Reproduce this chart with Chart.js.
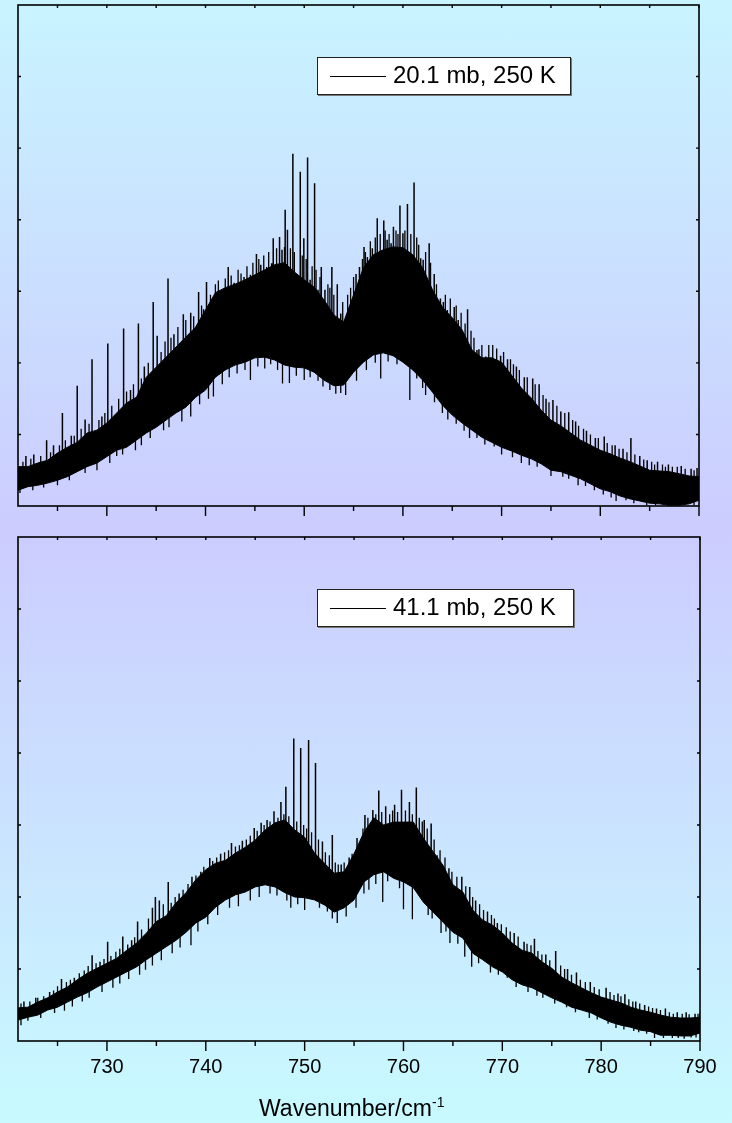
<!DOCTYPE html>
<html>
<head>
<meta charset="utf-8">
<script src="https://cdn.jsdelivr.net/npm/chart.js@4.4.1/dist/chart.umd.min.js"></script>
<style>
  html, body { margin: 0; padding: 0; }
  body {
    width: 732px; height: 1123px; position: relative; overflow: hidden;
    background: linear-gradient(to bottom, #c8f4ff 0%, #ccccff 47%, #c8faff 100%);
    font-family: "Liberation Sans", Arial, sans-serif;
  }
  canvas { position: absolute; left: 0; }
  #c1 { top: 0; }
  #c2 { top: 520px; }
  .legend {
    position: absolute; height: 38px; box-sizing: border-box; z-index: 2;
    background: #fff; border: 1px solid #222; box-shadow: 1px 1px 0 #777;
  }
  .legend i { position: absolute; left: 12px; top: 18px; width: 56px; border-top: 1px solid #000; }
  .legend span { position: absolute; left: 75px; top: 5px; font-size: 24px; line-height: 24px; white-space: nowrap; color: #000; }
  #xtitle { position: absolute; left: 259px; top: 1097px; font-size: 23px; line-height: 23px; color: #000; white-space: nowrap; }
  #xtitle sup { font-size: 14px; vertical-align: 9px; line-height: 0; }
</style>
</head>
<body>
<canvas id="c1" width="732" height="520"></canvas>
<canvas id="c2" width="732" height="603"></canvas>
<div class="legend" id="leg1" style="left:317px;top:57px;width:254px"><i></i><span></span></div>
<div class="legend" id="leg2" style="left:317px;top:589px;width:257px"><i></i><span></span></div>
<div id="xtitle">Wavenumber/cm<sup>-1</sup></div>

<script>
// x grid (cm-1)
const wavenumbers = [721,722,723,724,725,726,727,728,729,730,
  731,732,733,734,735,736,737,738,739,740,
  741,742,743,744,745,746,747,748,749,750,
  751,752,753,754,755,756,757,758,759,760,
  761,762,763,764,765,766,767,768,769,770,
  771,772,773,774,775,776,777,778,779,780,
  781,782,783,784,785,786,787,788,789,790];
const xLabelTicks = [730, 740, 750, 760, 770, 780, 790];
const xMinorTicks = [725, 735, 745, 755, 765, 775, 785];
const yTicks = [1, 2, 3, 4, 5, 6];
const seriesLabels = ['20.1 mb, 250 K', '41.1 mb, 250 K'];

// 20.1 mb - solid band top / bottom
const upper20 = [0.55,0.55,0.60,0.64,0.74,0.82,0.89,1.02,1.06,1.16,
  1.30,1.44,1.52,1.80,1.94,2.08,2.22,2.36,2.50,2.74,
  2.98,3.05,3.10,3.16,3.23,3.30,3.37,3.40,3.27,3.16,
  3.06,2.88,2.67,2.57,2.95,3.33,3.51,3.58,3.62,3.61,
  3.51,3.33,3.02,2.78,2.63,2.46,2.18,2.07,2.07,2.01,
  1.83,1.65,1.51,1.34,1.20,1.12,1.02,0.92,0.85,0.78,
  0.73,0.67,0.62,0.56,0.50,0.49,0.48,0.45,0.42,0.41];
const lower20 = [0.22,0.27,0.29,0.32,0.36,0.41,0.48,0.55,0.60,0.69,
  0.78,0.82,0.92,1.02,1.10,1.20,1.30,1.38,1.52,1.62,
  1.80,1.90,1.97,2.01,2.07,2.08,2.04,1.97,1.94,1.93,
  1.87,1.76,1.68,1.69,1.87,2.01,2.11,2.14,2.10,2.01,
  1.90,1.76,1.59,1.41,1.27,1.16,1.06,0.96,0.89,0.82,
  0.77,0.71,0.66,0.59,0.50,0.48,0.43,0.38,0.31,0.24,
  0.20,0.14,0.10,0.07,0.04,0.03,0.01,0.01,0.03,0.08];
// [wavenumber, line tip] - the tall isolated lines
const spikesUp20 = [[721.8,0.70],[722.6,0.72],[723.9,0.92],[724.6,0.85],[725.5,1.30],[726.4,0.98],
  [727.0,1.68],[727.8,1.21],[728.5,2.05],[729.5,1.25],[730.1,2.27],[731.7,2.48],[732.4,1.62],
  [733.2,2.55],[733.8,1.95],[734.7,2.85],[735.1,2.38],[736.2,3.18],[736.8,2.40],[737.75,2.68],
  [738.5,2.70],[739.3,2.99],[739.8,2.75],[740.1,3.13],[741.6,2.99],[742.3,3.34],[742.9,3.12],
  [743.9,3.20],[744.55,3.23],[745.16,3.52],[745.6,3.37],[746.2,3.34],[746.7,3.39],[746.86,3.74],
  [747.5,3.76],[747.75,3.58],[748.07,4.14],[748.3,3.86],[748.85,4.92],[749.3,3.20],[749.6,4.67],
  [749.96,3.74],[750.34,4.87],[750.6,3.16],[751.05,4.51],[751.4,3.02],[751.73,3.34],[752.1,3.02],
  [752.8,3.34],[753.35,3.10],[753.7,2.69],[754.1,2.60],[755.25,3.24],[755.6,3.34],[756.06,3.62],
  [756.4,3.48],[756.9,3.60],[757.4,4.02],[758.06,3.99],[758.4,3.72],[758.8,3.67],[759.04,3.90],
  [759.7,4.20],[760.0,3.81],[760.46,4.22],[761.13,4.52],[761.8,3.46],[762.05,3.44],[762.66,3.67],
  [763.17,3.24],[763.8,2.90],[764.1,2.85],[764.5,2.74],[765.2,2.78],[765.6,2.60],[766.55,2.75],
  [767.5,2.18],[767.7,2.19],[768.4,2.09],[769.9,2.10],[770.6,2.05],[771.5,1.95],[772.3,1.80],
  [773.15,1.78],[773.8,1.70],[774.5,1.50],[775.2,1.48],[776.0,1.32],[776.8,1.31],[777.5,1.18],
  [778.6,1.05],[779.5,0.95],[780.4,0.97],[781.5,0.85],[782.3,0.80],[783.1,0.95],[784.0,0.70],
  [784.75,0.64],[785.8,0.62],[786.9,0.58],[788.2,0.56],[789.2,0.52],[789.8,0.53]];
// short lines that fray the top edge of the band
const grassUp20 = [[721.5,0.62],[722.3,0.66],[723.3,0.70],[724.3,0.75],[725.2,0.85],[725.8,0.92],
  [726.7,0.98],[727.4,1.08],[728.2,1.15],[729.2,1.20],[729.8,1.30],[730.5,1.40],[731.2,1.50],
  [732.0,1.60],[732.7,1.70],[733.5,1.78],[734.2,2.00],[735.5,2.15],[735.9,2.30],[736.5,2.35],
  [737.2,2.50],[738.0,2.60],[738.8,2.65],[739.6,2.80],[740.5,2.95],[741.0,3.10],[741.3,3.15],
  [742.0,3.18],[742.6,3.22],[743.3,3.30],[743.6,3.25],[744.2,3.35],[744.8,3.40],[745.4,3.45],
  [745.9,3.50],[746.4,3.55],[747.2,3.60],[748.0,3.62],[748.6,3.60],[749.0,3.55],[749.8,3.50],
  [750.2,3.45],[750.8,3.35],[751.2,3.30],[751.6,3.20],[752.4,3.10],[752.6,3.05],[753.0,2.95],
  [753.9,2.85],[754.4,2.95],[754.7,3.05],[755.0,3.20],[755.9,3.45],[756.2,3.55],[756.7,3.70],
  [757.2,3.75],[757.7,3.80],[758.2,3.85],[758.6,3.80],[759.3,3.85],[759.5,3.80],[760.2,3.85],
  [760.8,3.80],[761.4,3.75],[761.6,3.65],[762.3,3.55],[762.8,3.40],[763.4,3.10],[764.3,2.95],
  [764.8,2.90],[765.4,2.80],[765.9,2.70],[766.3,2.55],[766.9,2.45],[767.2,2.35],[768.0,2.25],
  [768.7,2.25],[769.1,2.25],[769.5,2.20],[770.2,2.15],[770.9,2.05],[771.2,1.98],[771.8,1.90],
  [772.6,1.80],[773.4,1.70],[774.2,1.55],[774.8,1.45],[775.6,1.40],[776.4,1.30],[777.2,1.20],
  [777.8,1.12],[778.3,1.08],[779.0,1.00],[779.8,0.95],[780.7,0.88],[781.2,0.85],[781.9,0.80],
  [782.7,0.75],[783.5,0.72],[784.4,0.65],[785.2,0.62],[785.5,0.58],[786.3,0.58],[786.6,0.55],
  [787.3,0.55],[787.8,0.55],[788.6,0.52],[789.5,0.50]];
// [wavenumber, dip bottom]
const spikesDown20 = [[721.2,0.18],[722.5,0.22],[723.6,0.26],[725.0,0.29],[726.2,0.36],[727.8,0.46],
  [729.0,0.50],[730.3,0.60],[731.0,0.70],[731.6,0.72],[732.9,0.78],[733.5,0.85],[734.4,0.95],
  [735.75,1.06],[736.3,1.10],[737.6,1.18],[738.5,1.25],[739.4,1.42],[740.3,1.50],[740.8,1.53],
  [741.7,1.70],[742.4,1.80],[743.2,1.85],[744.0,1.90],[744.55,1.76],[745.3,1.95],[746.0,1.92],
  [746.6,1.98],[747.3,1.90],[747.8,1.71],[748.5,1.72],[749.2,1.82],[750.0,1.76],[750.6,1.80],
  [751.4,1.75],[751.9,1.67],[752.6,1.62],[753.2,1.57],[753.7,1.58],[754.2,1.55],[755.3,1.75],
  [756.3,1.90],[757.2,2.00],[757.75,1.78],[758.5,2.02],[759.4,1.98],[760.7,1.48],[761.4,1.78],
  [762.0,1.65],[762.3,1.55],[763.2,1.45],[764.0,1.30],[764.55,1.21],[765.4,1.15],[766.2,1.05],
  [766.75,0.95],[767.5,0.95],[768.3,0.86],[769.25,0.83],[770.0,0.72],[771.1,0.68],[772.0,0.60],
  [772.8,0.57],[773.6,0.55],[775.0,0.42],[776.2,0.41],[776.8,0.38],[777.75,0.29],[778.5,0.28],
  [779.4,0.22],[780.3,0.16],[781.1,0.12],[781.6,0.07],[782.6,0.08],[783.4,0.04],[784.7,0.01],
  [785.6,0.01],[786.8,0.00],[788.0,0.00],[789.5,0.01]];

// 41.1 mb - solid band top / bottom
const upper41 = [0.46,0.47,0.54,0.60,0.68,0.75,0.85,0.94,1.01,1.08,
  1.15,1.26,1.36,1.50,1.66,1.74,1.92,2.06,2.24,2.38,
  2.47,2.51,2.61,2.69,2.79,2.93,3.03,3.07,2.93,2.83,
  2.61,2.47,2.33,2.35,2.60,2.90,3.10,3.00,3.04,3.04,
  3.04,2.82,2.63,2.44,2.17,2.07,1.82,1.68,1.61,1.50,
  1.36,1.26,1.22,1.10,1.01,0.89,0.81,0.74,0.67,0.61,
  0.57,0.53,0.47,0.43,0.40,0.36,0.33,0.32,0.32,0.33];
const lower41 = [0.29,0.33,0.36,0.43,0.47,0.54,0.61,0.67,0.75,0.82,
  0.89,0.96,1.03,1.13,1.22,1.31,1.40,1.51,1.64,1.72,
  1.86,1.96,2.03,2.07,2.14,2.17,2.14,2.06,2.00,1.99,
  1.96,1.89,1.79,1.85,1.96,2.21,2.31,2.35,2.26,2.21,
  2.13,1.93,1.79,1.65,1.51,1.43,1.22,1.13,1.03,0.96,
  0.85,0.78,0.74,0.67,0.60,0.54,0.47,0.43,0.39,0.32,
  0.26,0.22,0.19,0.15,0.13,0.08,0.08,0.07,0.07,0.11];
const spikesUp41 = [[721.6,0.55],[722.8,0.60],[724.2,0.68],[725.4,0.86],[726.7,0.88],[728.5,1.19],
  [729.3,1.10],[730.07,1.38],[731.6,1.45],[732.5,1.40],[733.1,1.66],[734.6,1.85],[734.9,2.00],
  [735.3,1.95],[736.2,2.21],[737.3,2.05],[738.6,2.28],[739.5,2.35],[740.4,2.54],[741.5,2.60],
  [742.6,2.75],[743.7,2.78],[744.9,2.96],[745.6,3.03],[746.2,3.07],[746.9,3.19],[747.6,3.32],
  [748.1,3.53],[748.9,4.20],[749.6,4.07],[750.4,4.18],[751.1,3.86],[751.8,2.77],[752.8,2.86],
  [753.7,2.45],[754.5,2.55],[755.3,2.82],[756.1,3.14],[756.9,3.21],[757.5,3.48],[758.2,3.26],
  [759.1,3.28],[759.8,3.49],[760.6,3.32],[761.3,3.52],[762.1,3.07],[762.8,3.02],[763.4,2.58],
  [764.6,2.40],[765.9,2.28],[766.7,2.14],[767.3,1.95],[768.5,1.80],[769.5,1.64],[771.2,1.50],
  [772.2,1.38],[773.25,1.42],[774.4,1.20],[775.4,1.25],[776.6,1.00],[777.5,0.95],[778.9,0.82],
  [780.5,0.74],[781.7,0.66],[782.4,0.65],[783.5,0.55],[784.4,0.50],[785.6,0.45],[786.5,0.45],
  [787.7,0.40],[788.6,0.40],[789.5,0.38],[790.0,0.39]];
const grassUp41 = [[721.3,0.52],[722.2,0.55],[723.0,0.60],[723.6,0.62],[724.6,0.70],[725.0,0.76],
  [725.9,0.82],[726.3,0.85],[727.2,0.94],[727.7,0.98],[728.1,1.04],[728.9,1.08],[729.7,1.14],
  [730.4,1.18],[730.9,1.24],[731.3,1.28],[732.1,1.34],[732.8,1.44],[733.5,1.55],[734.2,1.70],
  [735.7,1.90],[736.5,1.92],[736.9,2.00],[737.7,2.10],[738.2,2.18],[739.0,2.30],[739.8,2.42],
  [740.7,2.50],[741.1,2.55],[741.9,2.62],[742.3,2.65],[743.0,2.70],[743.4,2.72],[744.1,2.80],
  [744.5,2.85],[745.2,2.92],[745.9,3.00],[746.5,3.05],[747.3,3.10],[747.9,3.15],[748.4,3.12],
  [749.2,3.05],[749.9,3.00],[750.2,2.95],[750.7,2.90],[751.4,2.80],[752.1,2.62],[752.5,2.58],
  [753.1,2.48],[753.4,2.45],[754.0,2.48],[754.8,2.60],[755.6,2.75],[755.9,2.95],[756.4,3.10],
  [757.2,3.15],[757.8,3.18],[758.6,3.15],[758.9,3.20],[759.4,3.18],[760.2,3.20],[760.9,3.15],
  [761.6,3.10],[761.9,3.05],[762.4,2.95],[763.1,2.80],[763.7,2.65],[764.2,2.55],[764.9,2.35],
  [765.4,2.28],[766.3,2.15],[767.0,2.00],[767.7,1.90],[768.1,1.82],[768.9,1.75],[769.2,1.70],
  [769.9,1.62],[770.4,1.58],[770.8,1.52],[771.6,1.45],[772.5,1.35],[772.9,1.33],[773.6,1.25],
  [774.0,1.20],[774.8,1.12],[775.9,1.05],[776.3,1.00],[777.0,0.92],[777.9,0.85],[778.4,0.82],
  [779.3,0.75],[779.8,0.72],[780.9,0.68],[781.3,0.64],[782.0,0.62],[782.8,0.58],[783.2,0.55],
  [783.9,0.52],[784.8,0.48],[785.2,0.46],[786.0,0.43],[786.9,0.40],[787.3,0.38],[788.2,0.38],
  [788.9,0.37],[789.8,0.38]];
const spikesDown41 = [[721.3,0.22],[722.0,0.28],[723.3,0.32],[724.7,0.39],[725.7,0.42],[726.5,0.48],
  [727.5,0.55],[728.2,0.60],[729.5,0.68],[730.6,0.74],[731.3,0.80],[732.2,0.86],[733.3,0.92],
  [733.9,0.99],[734.6,1.05],[735.5,1.12],[736.6,1.22],[737.4,1.30],[738.5,1.33],[739.2,1.52],
  [740.2,1.62],[741.2,1.75],[742.4,1.85],[743.3,1.87],[744.5,1.95],[745.4,2.00],[746.5,2.05],
  [747.2,2.02],[748.2,1.95],[748.6,1.85],[749.3,1.90],[750.0,1.82],[751.5,1.85],[752.3,1.80],
  [752.8,1.70],[753.3,1.64],[754.2,1.73],[755.2,1.85],[756.0,2.05],[756.5,2.10],[757.2,2.18],
  [757.9,1.93],[758.4,2.22],[759.6,2.12],[760.0,1.83],[760.9,1.69],[761.7,2.00],[762.5,1.75],
  [762.9,1.70],[763.8,1.50],[764.3,1.52],[764.7,1.36],[765.5,1.35],[766.2,1.17],[766.9,1.03],
  [767.6,1.08],[768.8,0.95],[769.6,0.92],[770.5,0.88],[771.4,0.75],[772.6,0.68],[773.5,0.63],
  [774.1,0.60],[775.3,0.52],[776.5,0.47],[777.4,0.40],[778.8,0.32],[779.6,0.30],[780.7,0.24],
  [781.5,0.18],[782.3,0.16],[783.3,0.14],[783.8,0.12],[784.6,0.10],[785.4,0.04],[786.3,0.04],
  [787.2,0.04],[787.8,0.04],[788.4,0.03],[789.1,0.05],[789.6,0.05]];

Chart.defaults.font.family = '"Liberation Sans", Arial, sans-serif';
Chart.defaults.color = '#000';

// each line runs from the middle of the band out to its tip
function spikeSegments(list, upper, lower) {
  const pts = [];
  list.forEach(([x, y]) => {
    const i = wavenumbers.indexOf(Math.round(x));
    const mid = (upper[i] + lower[i]) / 2;
    pts.push({x: x, y: mid}, {x: x, y: y}, {x: x, y: null});
  });
  return pts;
}

// frame + ticks (top / left / right inward, bottom outward)
const framePlugin = {
  id: 'frame',
  afterDatasetsDraw(chart) {
    const {ctx, chartArea: a, scales: {x, y}} = chart;
    ctx.save();
    ctx.strokeStyle = '#000';
    ctx.lineWidth = 1.6;
    ctx.strokeRect(a.left, a.top, a.right - a.left, a.bottom - a.top);
    ctx.lineWidth = 1.4;
    ctx.beginPath();
    xLabelTicks.forEach(v => {
      const px = x.getPixelForValue(v);
      ctx.moveTo(px, a.bottom); ctx.lineTo(px, a.bottom + 10);
      ctx.moveTo(px, a.top); ctx.lineTo(px, a.top + 3);
    });
    xMinorTicks.forEach(v => {
      const px = x.getPixelForValue(v);
      ctx.moveTo(px, a.bottom); ctx.lineTo(px, a.bottom + 5);
      ctx.moveTo(px, a.top); ctx.lineTo(px, a.top + 3);
    });
    yTicks.forEach(v => {
      const py = y.getPixelForValue(v);
      ctx.moveTo(a.left, py); ctx.lineTo(a.left + 3, py);
      ctx.moveTo(a.right, py); ctx.lineTo(a.right - 3, py);
    });
    ctx.stroke();
    ctx.restore();
  }
};

function drawPanel(id, upper, lower, up, grass, down, withLabels, pad) {
  const line = {borderColor: '#000', pointRadius: 0, fill: false};
  return new Chart(document.getElementById(id), {
    type: 'line',
    data: {
      datasets: [
        {...line, borderWidth: 1, data: wavenumbers.map((x, i) => ({x: x, y: lower[i]}))},
        {...line, borderWidth: 1, fill: '-1', backgroundColor: '#000',
          data: wavenumbers.map((x, i) => ({x: x, y: upper[i]}))},
        {...line, borderWidth: 1.5, data: spikeSegments(up, upper, lower)},
        {...line, borderWidth: 1.3, data: spikeSegments(grass, upper, lower)},
        {...line, borderWidth: 1.3, data: spikeSegments(down, upper, lower)}
      ]
    },
    options: {
      responsive: false,
      animation: false,
      events: [],
      layout: {padding: pad},
      plugins: {legend: {display: false}, tooltip: {enabled: false}},
      scales: {
        x: {
          type: 'linear', min: 721, max: 790, display: withLabels,
          grid: {display: false, drawTicks: false},
          border: {display: false},
          ticks: {font: {size: 20}, color: '#000', padding: 14},
          afterBuildTicks: s => { s.ticks = xLabelTicks.map(v => ({value: v})); },
          afterFit: s => { if (withLabels) s.height = 40; }
        },
        y: {min: 0, max: 7, display: false}
      }
    },
    plugins: [framePlugin]
  });
}

drawPanel('c1', upper20, lower20, spikesUp20, grassUp20, spikesDown20, false,
  {left: 18, top: 5, right: 33, bottom: 14});
drawPanel('c2', upper41, lower41, spikesUp41, grassUp41, spikesDown41, true,
  {left: 18, top: 17, right: 32, bottom: 42});

document.querySelector('#leg1 span').textContent = seriesLabels[0];
document.querySelector('#leg2 span').textContent = seriesLabels[1];
</script>
</body>
</html>
